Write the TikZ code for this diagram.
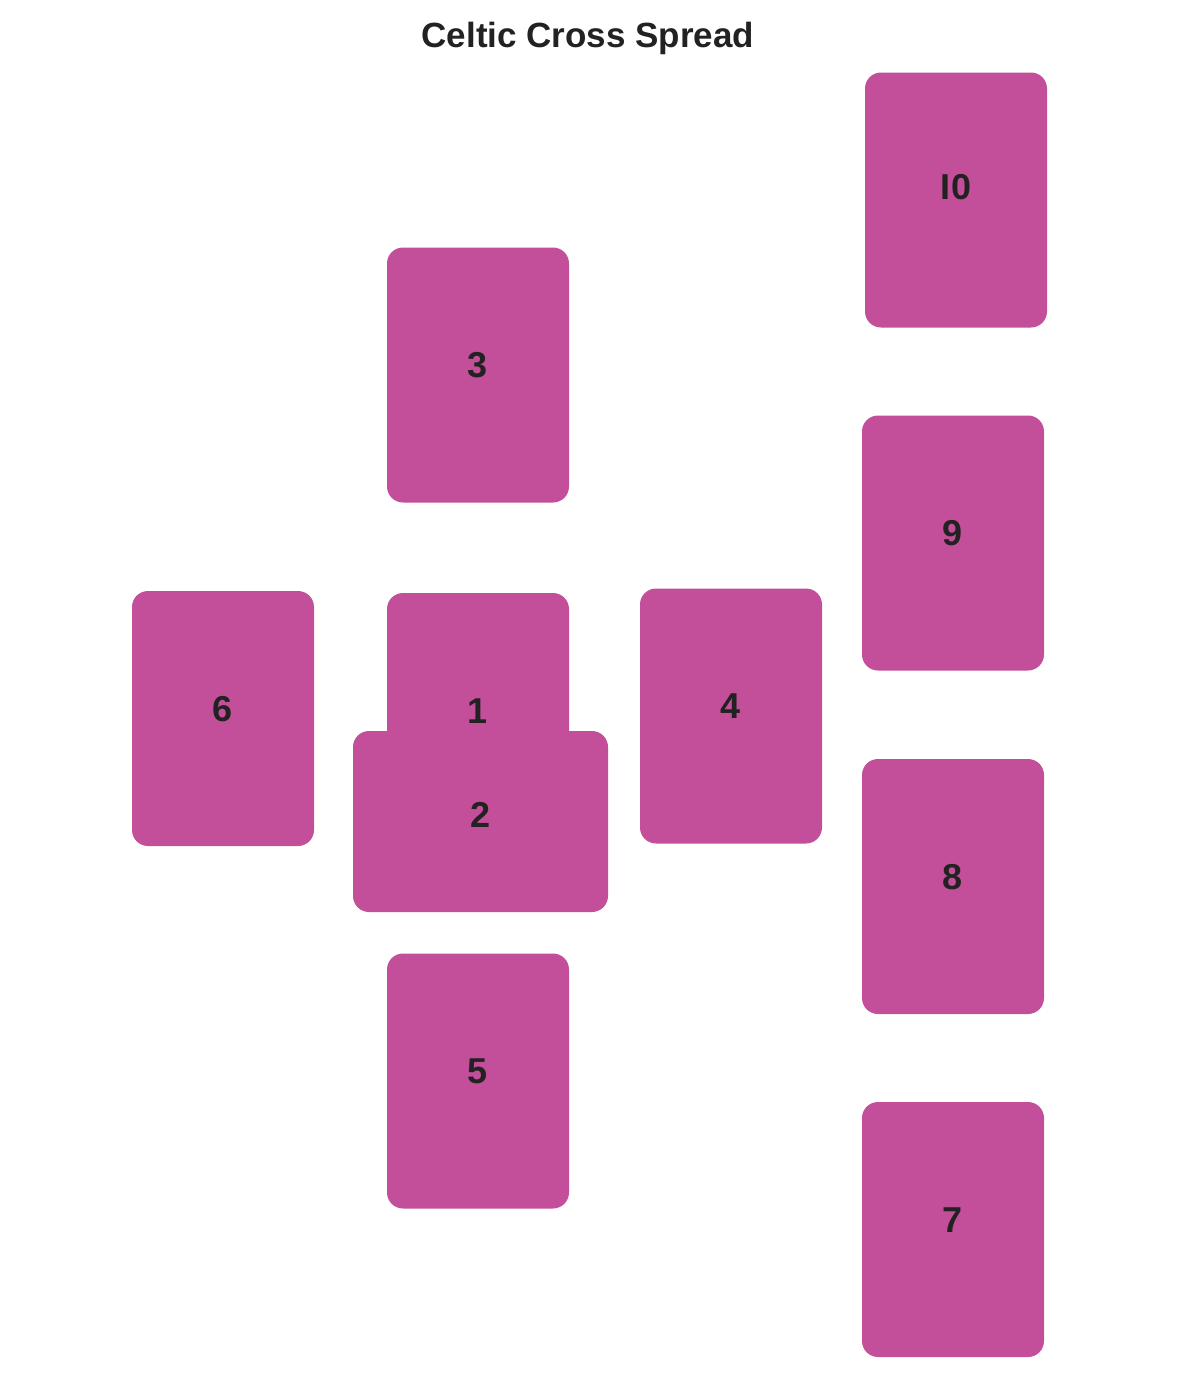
\documentclass[tikz,border=0pt]{standalone}
\usepackage{fontspec}
\setmainfont{Liberation Sans}
\usepackage{tikz}
\usetikzlibrary{positioning}
\usepackage{xcolor}
\definecolor{cardpink}{HTML}{C34F9A}
\definecolor{ink}{HTML}{222222}

\begin{document}
\begin{tikzpicture}[
    x=0.5pt, y=-0.5pt,
    card/.style={rectangle, fill=cardpink, rounded corners=8pt, minimum width=91pt, minimum height=127.5pt, inner sep=0pt,
        text=ink, font=\fontsize{18}{20}\selectfont\bfseries, text height=12.9pt, text depth=10pt},
    tcard/.style={card, minimum width=127.5pt, minimum height=90.5pt, text depth=7pt},
    title/.style={font=\fontsize{17.5}{20}\selectfont\bfseries, text=ink}
]
    \useasboundingbox (0,0) rectangle (1200,1373);
    \node[title] (head) at (588,38) {Celtic Cross Spread};

    \node[card, text depth=13pt] (c10) at (956,200) {I0};
    \node[card] (c3) at (478,375) {3};
    \node[card] (c9) at (953,543) {9};
    \node[card] (c6) at (223,718.5) {6};
    \node[card] (c1) at (478,720.5) {1};
    \node[card] (c4) at (731,716) {4};
    \node[tcard] (c2) at (480.5,821.5) {2};
    \node[card] (c8) at (953,886.5) {8};
    \node[card] (c5) at (478,1081) {5};
    \node[card] (c7) at (953,1229.5) {7};
\end{tikzpicture}
\end{document}
